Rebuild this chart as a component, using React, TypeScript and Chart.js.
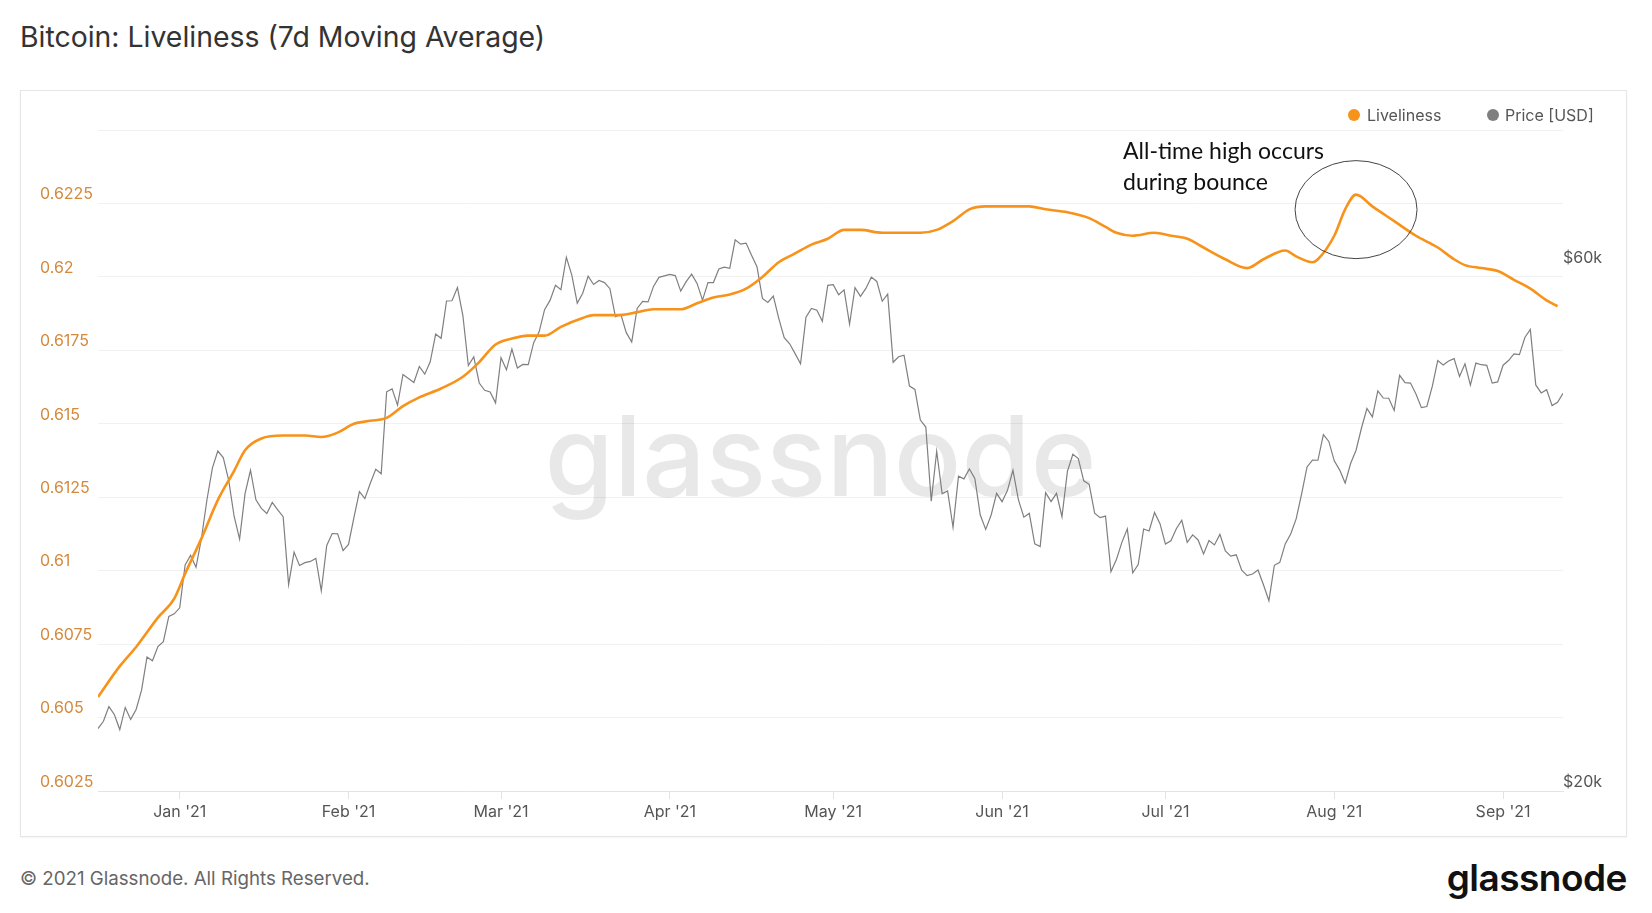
import React, { useEffect, useRef } from 'react';
import { Chart, registerables } from 'chart.js';

Chart.register(...registerables);

// Daily BTC price [USD], 2020-12-17 .. 2021-09-12 (day index 0 .. 269)
const priceDec2020 = [22800, 23150, 23870, 23480, 22750, 23830, 23240, 23730, 24710, 26490, 26280, 27080, 27360, 28840, 29000];
const priceJan2021 = [29370, 32130, 32780, 31970, 33990, 36820, 39370, 40800, 40250, 38360, 35570, 33920, 37320, 39190, 36830, 36180, 35790, 36630, 36070, 35550, 30830, 33010, 32100, 32290, 32370, 32570, 30430, 33470, 34320, 34300, 33110];
const priceFeb2021 = [33540, 35510, 37470, 36930, 38140, 39270, 38900, 46200, 46480, 44920, 47910, 47500, 47110, 48720, 47940, 49200, 52150, 51680, 55890, 55920, 57490, 54210, 48820, 49710, 47060, 46340, 46190, 45140];
const priceMar2021 = [49630, 48380, 50540, 48560, 48930, 48910, 51210, 52390, 54880, 55960, 57770, 57230, 61260, 59020, 55630, 56810, 58880, 57860, 58350, 58090, 57350, 54090, 54340, 52300, 51290, 55030, 55850, 55780, 57630, 58730, 58920];
const priceApr2021 = [59100, 58950, 57060, 58200, 59130, 57990, 56000, 58090, 58090, 59770, 60000, 59860, 63540, 62970, 63110, 61530, 60050, 56200, 55720, 56470, 53900, 51760, 51090, 50050, 49000, 54020, 55030, 54820, 53560, 57750];
const priceMay2021 = [57830, 56630, 57210, 53240, 57470, 56430, 57380, 58760, 58230, 55860, 56700, 49150, 49720, 49880, 46760, 46430, 43540, 42910, 36720, 40780, 37300, 37530, 34770, 38710, 38490, 39290, 38530, 35680, 34620, 35680, 37340];
const priceJun2021 = [36690, 37570, 39190, 36850, 35520, 35800, 33580, 33400, 37390, 36690, 37340, 35550, 39100, 40520, 40160, 38330, 38050, 35820, 35480, 35600, 31680, 32500, 33690, 34660, 31600, 32160, 34650, 34500, 35870, 35040];
const priceJul2021 = [33570, 33800, 34670, 35290, 33690, 34220, 33860, 32880, 33820, 33510, 34260, 33090, 32730, 32820, 31780, 31420, 31530, 31790, 30820, 29810, 32110, 32310, 33580, 34290, 35390, 37280, 39460, 40030, 40020, 42240, 41630];
const priceAug2021 = [39970, 39200, 38150, 39750, 40870, 42820, 44610, 43830, 46290, 45600, 45580, 44430, 47820, 47100, 47050, 45990, 44690, 44800, 46720, 49320, 48870, 49290, 49530, 47710, 48990, 46850, 49070, 48900, 48830, 47050, 47170];
const priceSep2021 = [48850, 49330, 50030, 49950, 51770, 52660, 46870, 46090, 46400, 44880, 45200, 46060];

const price = [
  ...priceDec2020, ...priceJan2021, ...priceFeb2021, ...priceMar2021, ...priceApr2021,
  ...priceMay2021, ...priceJun2021, ...priceJul2021, ...priceAug2021, ...priceSep2021,
];

// Liveliness (7d MA), read at these day indices
const livDays = [0, 4, 7, 11, 14, 16, 19, 22, 25, 27, 30, 34, 38, 41, 44, 47, 50, 53, 56, 59, 63, 67, 70, 73, 76, 79, 82, 85, 89, 91, 96, 99, 102, 107, 110, 113, 116, 119, 122, 125, 128, 131, 134, 137, 140, 144, 148, 151, 154, 157, 160, 163, 167, 171, 174, 178, 182, 185, 187, 190, 194, 197, 200, 203, 207, 211, 214, 218, 220, 223, 224, 227, 229, 231, 234, 238, 242, 246, 249, 251, 254, 257, 260, 263, 266, 268];
const livValues = [0.6057, 0.60675, 0.6074, 0.6084, 0.60905, 0.6099, 0.6111, 0.6124, 0.6134, 0.6141, 0.6145, 0.6146, 0.6146, 0.61455, 0.6147, 0.615, 0.6151, 0.6152, 0.6156, 0.6159, 0.6162, 0.6166, 0.6171, 0.6177, 0.6179, 0.618, 0.618, 0.6183, 0.6186, 0.6187, 0.6187, 0.6188, 0.6189, 0.6189, 0.6191, 0.6193, 0.6194, 0.6196, 0.62, 0.6205, 0.6208, 0.6211, 0.6213, 0.6216, 0.6216, 0.6215, 0.6215, 0.6215, 0.6216, 0.6219, 0.6223, 0.6224, 0.6224, 0.6224, 0.6223, 0.6222, 0.622, 0.6217, 0.6215, 0.6214, 0.6215, 0.6214, 0.6213, 0.621, 0.6206, 0.6203, 0.6206, 0.6209, 0.6207, 0.6205, 0.6206, 0.6214, 0.6223, 0.6228, 0.6224, 0.6219, 0.6214, 0.621, 0.6206, 0.6204, 0.6203, 0.6202, 0.6199, 0.6196, 0.6192, 0.619];

const monthTickDays = [15, 46, 74, 105, 135, 166, 196, 227, 258];
const monthLabels = ["Jan '21", "Feb '21", "Mar '21", "Apr '21", "May '21", "Jun '21", "Jul '21", "Aug '21", "Sep '21"];
const leftTickValues = [0.6025, 0.605, 0.6075, 0.61, 0.6125, 0.615, 0.6175, 0.62, 0.6225, 0.625];
const leftTickLabels = ['0.6025', '0.605', '0.6075', '0.61', '0.6125', '0.615', '0.6175', '0.62', '0.6225', ''];
const rightTickValues = [20000, 60000];
const rightTickLabels = ['$20k', '$60k'];

const ORANGE = '#f7931a';
const GREY = '#7f7f7f';
const TEXT = '#555555';
const FONT = 'Inter, "Noto Sans", sans-serif';

const watermarkPlugin = {
  id: 'watermark',
  beforeDatasetsDraw(chart: any) {
    const { ctx, chartArea } = chart;
    ctx.save();
    ctx.font = '500 112px Inter, "Noto Sans", sans-serif';
    ctx.fillStyle = 'rgba(0,0,0,0.09)';
    ctx.textAlign = 'center';
    ctx.textBaseline = 'alphabetic';
    ctx.fillText('glassnode', (chartArea.left + chartArea.right) / 2 - 10, (chartArea.top + chartArea.bottom) / 2 + 35);
    ctx.restore();
  },
};

const ellipsePlugin = {
  id: 'athEllipse',
  afterDatasetsDraw(chart: any) {
    const { ctx, scales } = chart;
    const peakIdx = livValues.indexOf(Math.max(...livValues));
    const cx = scales.x.getPixelForValue(livDays[peakIdx]);
    const cy = scales.y.getPixelForValue(livValues[peakIdx]) + 15;
    ctx.save();
    ctx.beginPath();
    ctx.ellipse(cx, cy, 61, 49, 0, 0, Math.PI * 2);
    ctx.strokeStyle = '#444';
    ctx.lineWidth = 1;
    ctx.stroke();
    ctx.restore();
  },
};

export default function App() {
  const ref = useRef<HTMLCanvasElement>(null);

  useEffect(() => {
    document.body.style.margin = '0';
    const canvas = ref.current;
    if (!canvas) return;
    const chart = new Chart(canvas, {
      type: 'line',
      data: {
        datasets: [
          {
            label: 'Liveliness',
            data: livDays.map((d, i) => ({ x: d, y: livValues[i] })),
            yAxisID: 'y',
            borderColor: ORANGE,
            borderWidth: 2.6,
            pointRadius: 0,
            cubicInterpolationMode: 'monotone',
            order: 0,
          },
          {
            label: 'Price [USD]',
            data: price.map((v, i) => ({ x: i, y: v })),
            yAxisID: 'y1',
            borderColor: GREY,
            borderWidth: 1.2,
            pointRadius: 0,
            tension: 0,
            order: 1,
          },
        ],
      },
      options: {
        animation: false,
        responsive: false,
        devicePixelRatio: 1,
        layout: { padding: { left: 20, right: 25, top: 40, bottom: 0 } },
        plugins: { legend: { display: false }, tooltip: { enabled: false } },
        scales: {
          x: {
            type: 'linear',
            min: 0,
            max: price.length - 1,
            afterBuildTicks: (axis: any) => {
              axis.ticks = monthTickDays.map((v) => ({ value: v }));
            },
            afterFit: (axis: any) => {
              axis.height = 46;
            },
            grid: { drawOnChartArea: false, drawTicks: true, tickLength: 8, color: '#e3e3e3' },
            border: { display: true, color: '#e3e3e3' },
            ticks: {
              autoSkip: false,
              maxRotation: 0,
              padding: 4,
              color: TEXT,
              font: { family: FONT, size: 16 },
              callback: (_v: any, i: number) => monthLabels[i],
            },
          },
          y: {
            type: 'linear',
            position: 'left',
            min: 0.6025,
            max: 0.625,
            afterBuildTicks: (axis: any) => {
              axis.ticks = leftTickValues.map((v) => ({ value: v }));
            },
            afterFit: (axis: any) => {
              axis.width = 58;
            },
            grid: { color: '#f1f1f1', drawTicks: false },
            border: { display: false },
            ticks: {
              crossAlign: 'far',
              labelOffset: -9,
              color: '#d4893c',
              font: { family: FONT, size: 16 },
              callback: (_v: any, i: number) => leftTickLabels[i],
            },
          },
          y1: {
            type: 'logarithmic',
            position: 'right',
            min: 20000,
            max: 80000,
            afterBuildTicks: (axis: any) => {
              axis.ticks = rightTickValues.map((v) => ({ value: v }));
            },
            afterFit: (axis: any) => {
              axis.width = 39;
            },
            grid: { display: false, drawTicks: false },
            border: { display: false },
            ticks: {
              crossAlign: 'far',
              labelOffset: -9,
              color: TEXT,
              font: { family: FONT, size: 16 },
              callback: (_v: any, i: number) => rightTickLabels[i],
            },
          },
        },
      } as any,
      plugins: [watermarkPlugin, ellipsePlugin],
    });
    return () => chart.destroy();
  }, []);

  const dot = (color: string, left: number) => (
    <div style={{ position: 'absolute', left: left - 6, top: 109, width: 12, height: 12, borderRadius: 6, background: color }} />
  );

  return (
    <div style={{ position: 'relative', width: 1652, height: 913, background: '#fff', overflow: 'hidden', fontFamily: FONT }}>
      <div style={{ position: 'absolute', left: 20, top: 20, fontSize: 28.4, lineHeight: '34px', color: '#333', whiteSpace: 'nowrap' }}>
        Bitcoin: Liveliness (7d Moving Average)
      </div>
      <div style={{ position: 'absolute', left: 20, top: 90, width: 1605, height: 745, border: '1px solid #e6e6e6', boxShadow: '0 1px 2px rgba(0,0,0,0.05)' }} />
      <canvas ref={ref} width={1607} height={747} style={{ position: 'absolute', left: 20, top: 90, width: 1607, height: 747 }} />
      {dot(ORANGE, 1354)}
      <div style={{ position: 'absolute', left: 1367, top: 103, fontSize: 16, lineHeight: '24px', color: TEXT }}>Liveliness</div>
      {dot(GREY, 1493)}
      <div style={{ position: 'absolute', left: 1505, top: 103, fontSize: 16, lineHeight: '24px', color: TEXT }}>Price [USD]</div>
      <div style={{ position: 'absolute', left: 1123, top: 135, fontFamily: 'Lato, "Open Sans", sans-serif', fontSize: 23, lineHeight: '31px', color: '#111', whiteSpace: 'nowrap' }}>
        All-time high occurs<br />during bounce
      </div>
      <div style={{ position: 'absolute', left: 20, top: 866, fontSize: 18.7, lineHeight: '26px', color: '#666', whiteSpace: 'nowrap' }}>
        © 2021 Glassnode. All Rights Reserved.
      </div>
      <div style={{ position: 'absolute', right: 25, top: 856, fontSize: 37, lineHeight: '44px', fontWeight: 600, color: '#111', letterSpacing: -0.5 }}>
        glassnode
      </div>
    </div>
  );
}
